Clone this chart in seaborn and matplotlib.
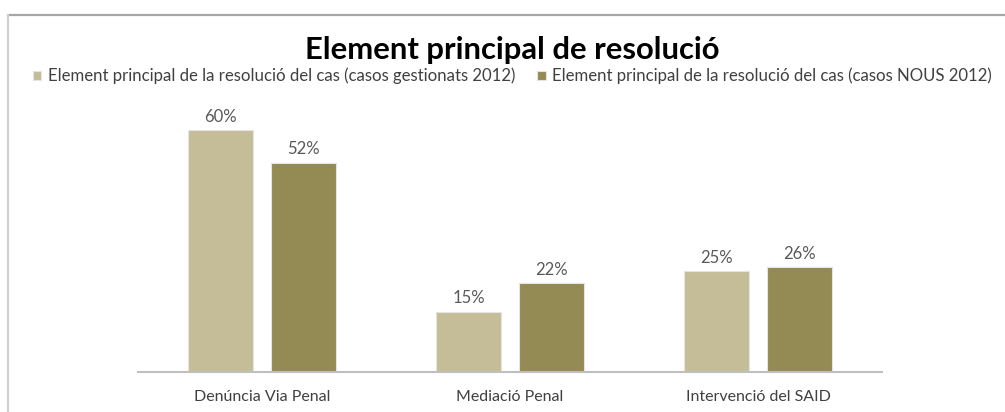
import pandas as pd
import matplotlib.pyplot as plt
import seaborn as sns
from matplotlib.lines import Line2D

# Data
categories = ["Denúncia Via Penal", "Mediació Penal", "Intervenció del SAID"]
series_names = [
    "Element principal de la resolució del cas (casos gestionats 2012)",
    "Element principal de la resolució del cas (casos NOUS 2012)",
]
gestionats = [60, 15, 25]
nous = [52, 22, 26]
colors = ["#C4BD97", "#948A54"]

df = pd.DataFrame({
    "categoria": categories * 2,
    "serie": [series_names[0]] * 3 + [series_names[1]] * 3,
    "valor": gestionats + nous,
})

sns.set_style("white")
plt.rcParams["font.family"] = ["Lato", "DejaVu Sans"]

fig = plt.figure(figsize=(10.05, 4.12), dpi=100)
ax = fig.add_axes([138 / 1005, 40 / 412, 744 / 1005, 282 / 412])

sns.barplot(data=df, x="categoria", y="valor", hue="serie", palette=colors,
            width=0.67, gap=0.22, ax=ax, saturation=1, legend=True,
            edgecolor="#E4E4E4", linewidth=0.8)

for cont in ax.containers:
    ax.bar_label(cont, labels=[f"{v:.0f}%" for v in cont.datavalues],
                 padding=4, fontsize=12, color="#595959")

ax.set_ylim(0, 70)
ax.set_xlim(-0.5, 2.5)
ax.set_xlabel("")
ax.set_ylabel("")
ax.set_yticks([])
ax.tick_params(axis="x", length=0, pad=13, labelsize=11.5, labelcolor="#404040")
for side in ["top", "left", "right"]:
    ax.spines[side].set_visible(False)
ax.spines["bottom"].set_color("#BFBFBF")
ax.spines["bottom"].set_linewidth(1.5)

# move legend to the top of the figure
handles, labels = ax.get_legend_handles_labels()
ax.get_legend().remove()
fig.legend(handles, labels, loc="center left", bbox_to_anchor=(33 / 1005, 1 - 76 / 412),
           ncol=2, frameon=False, fontsize=12.1, handlelength=0.5, handleheight=0.5,
           handletextpad=0.4, columnspacing=1.3, borderpad=0, borderaxespad=0,
           labelcolor="#404040")

fig.text(0.51, 1 - 50 / 412, "Element principal de resolució", ha="center", va="center",
         fontsize=22.3, fontweight="bold", color="#000000")

# chart frame (cropped in the original)
fig.add_artist(Line2D([8 / 1005, 1], [1 - 15 / 412] * 2, transform=fig.transFigure,
                      color="#A6A6A6", linewidth=1.6))
fig.add_artist(Line2D([8 / 1005] * 2, [0, 1 - 15 / 412], transform=fig.transFigure,
                      color="#D0D0D0", linewidth=1.6))

fig.savefig("out.png", dpi=100)
